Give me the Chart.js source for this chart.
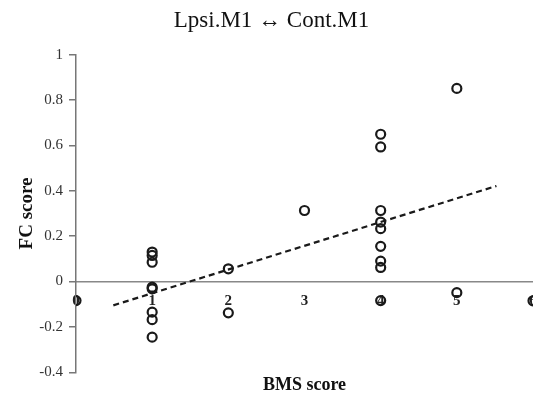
<!DOCTYPE html>
<html>
<head>
<meta charset="utf-8">
<script src="https://cdn.jsdelivr.net/npm/chart.js@4.4.1/dist/chart.umd.min.js"></script>
<style>
    html, body { margin: 0; padding: 0; overflow: hidden; background: #fff; }
    #wrap { width: 540px; height: 396px; }
</style>
</head>
<body>
<div id="wrap"><canvas id="fcChart"></canvas></div>
<script>
// BMS score (x) and FC score (y) per subject
var bmsScores = [0, 1, 1, 1, 1, 1, 1, 1, 1, 2, 2, 3, 4, 4, 4, 4, 4, 4, 4, 4, 4, 5, 5, 6];
var fcScores = [-0.084, 0.13, 0.115, 0.085, -0.025, -0.032, -0.135, -0.168, -0.245,
    0.056, -0.138, 0.313, 0.649, 0.593, 0.313, 0.262, 0.233, 0.155, 0.09, 0.062, -0.084,
    0.851, -0.049, -0.085];

// ends of the dashed fit line
var trendX = [0.49, 5.52];
var trendY = [-0.105, 0.421];

var xTicks = [0, 1, 2, 3, 4, 5, 6];
var yTicks = [-0.4, -0.2, 0, 0.2, 0.4, 0.6, 0.8, 1];

var serif = "'Liberation Serif', 'Times New Roman', serif";

function toPoints(xs, ys) {
    var pts = [];
    for (var i = 0; i < xs.length; i++)
        pts.push({x: xs[i], y: ys[i]});
    return pts;
}

// the last x label is cut by the picture edge, so no room is kept for it
function noSidePadding(scale) {
    scale.paddingLeft = 0;
    scale.paddingRight = 0;
}

function drawChart() {
    var ctx = document.getElementById('fcChart').getContext('2d');
    var chart = new Chart(ctx, {
        type: 'scatter',
        data: {
            datasets: [{
                label: 'Subjects',
                data: toPoints(bmsScores, fcScores),
                borderColor: '#1a1a1a',
                backgroundColor: 'rgba(0,0,0,0)',
                borderWidth: 2.2,
                pointRadius: 4.5,
            }, {
                type: 'line',
                label: 'Fit',
                data: toPoints(trendX, trendY),
                borderColor: '#1a1a1a',
                borderWidth: 2.2,
                borderDash: [6, 4],
                pointRadius: 0,
                fill: false,
            }]
        },
        options: {
            responsive: true,
            maintainAspectRatio: false,
            animation: false,
            layout: { padding: { left: 10, right: 7, top: 0, bottom: 0 } },
            plugins: {
                legend: { display: false },
                tooltip: { enabled: false },
                title: {
                    display: true,
                    text: 'Lpsi.M1 \u2194 Cont.M1',
                    color: '#111',
                    font: { family: serif, size: 23, weight: 'normal' },
                    padding: { top: 7, bottom: 20 }
                }
            },
            scales: {
                x: {
                    type: 'linear',
                    position: { y: 0 },
                    min: 0,
                    max: 6,
                    afterBuildTicks: function (scale) {
                        scale.ticks = xTicks.map(function (v) { return {value: v}; });
                    },
                    afterFit: noSidePadding,
                    grid: { display: false, drawTicks: false },
                    border: { display: true, color: '#888', width: 1.5 },
                    ticks: {
                        color: '#222',
                        padding: 11,
                        font: { family: serif, size: 15, weight: 'bold' }
                    }
                },
                x2: {
                    type: 'linear',
                    position: 'bottom',
                    min: 0,
                    max: 6,
                    afterFit: noSidePadding,
                    grid: { display: false, drawTicks: false },
                    border: { display: false },
                    ticks: { display: false },
                    title: {
                        display: true,
                        text: 'BMS score',
                        color: '#111',
                        font: { family: serif, size: 18, weight: 'bold', lineHeight: 1.15 },
                        padding: { top: 3, bottom: 0 }
                    }
                },
                y: {
                    type: 'linear',
                    position: 'left',
                    min: -0.4,
                    max: 1,
                    afterBuildTicks: function (scale) {
                        scale.ticks = yTicks.map(function (v) { return {value: v}; });
                    },
                    afterFit: function (scale) {
                        scale.width = 66;
                    },
                    grid: {
                        display: true,
                        drawOnChartArea: false,
                        drawTicks: true,
                        tickLength: 7,
                        color: '#777',
                        lineWidth: 1.5
                    },
                    border: { display: true, color: '#777', width: 1.5 },
                    ticks: {
                        color: '#333',
                        padding: 6,
                        font: { family: serif, size: 15 },
                        callback: function (v) { return String(+v.toFixed(1)); }
                    },
                    title: {
                        display: true,
                        text: 'FC score',
                        color: '#111',
                        font: { family: serif, size: 19, weight: 'bold' },
                        padding: { top: 6, bottom: 0 }
                    }
                }
            }
        }
    });
    return chart;
}

drawChart();
</script>
</body>
</html>
